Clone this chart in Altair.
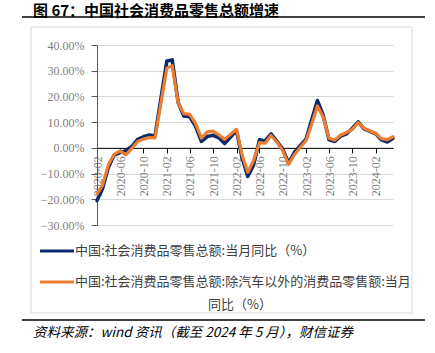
import altair as alt
import pandas as pd

# ---- data (percent, year-on-year) ----
years = [2020, 2021, 2022, 2023]
months = [f"{y}/{m:02d}/01" for y in years for m in range(2, 13)] + [
    "2024/02/01", "2024/03/01", "2024/04/01", "2024/05/01"]

total = [
    -20.5, -15.8, -7.5, -2.8, -1.8, -1.1, 0.5, 3.3, 4.3, 5.0, 4.6,
    33.8, 34.2, 17.7, 12.4, 12.1, 8.5, 2.5, 4.4, 4.9, 3.9, 1.7,
    6.7, -3.5, -11.1, -6.7, 3.1, 2.7, 5.4, 2.5, -0.5, -5.9, -1.8,
    3.5, 10.6, 18.4, 12.7, 3.1, 2.5, 4.6, 5.5, 7.6, 10.1, 7.4,
    5.5, 3.1, 2.3, 3.7,
]
ex_auto = [
    -18.0, -14.5, -6.5, -2.5, -1.2, -2.7, -0.3, 2.5, 3.4, 4.0, 3.9,
    31.0, 32.0, 17.5, 13.3, 13.0, 9.5, 3.8, 6.2, 6.5, 5.0, 3.3,
    7.2, -2.5, -9.5, -5.0, 2.0, 1.8, 4.8, 2.2, -1.1, -6.4, -2.7,
    3.0, 9.0, 16.3, 12.0, 3.7, 3.0, 5.0, 6.0, 7.2, 9.8, 7.6,
    5.6, 3.6, 3.2, 4.3,
]

tick_dates = [(2020, 2), (2020, 6), (2020, 10), (2021, 2), (2021, 6), (2021, 10),
              (2022, 2), (2022, 6), (2022, 10), (2023, 2), (2023, 6), (2023, 10),
              (2024, 2)]
y_ticks = [-30, -20, -10, 0, 10, 20, 30, 40]

title_text = "图 67：中国社会消费品零售总额增速"
legend1 = "中国:社会消费品零售总额:当月同比（%）"
legend2a = "中国:社会消费品零售总额:除汽车以外的消费品零售额:当月"
legend2b = "同比（%）"
source_text = "资料来源：wind 资讯（截至 2024 年 5 月），财信证券"

BLUE = "#0c2a69"
ORANGE = "#ED7D31"
SERIF = "Liberation Serif, Times New Roman, serif"
W, H = 296, 180
Y_MIN, Y_MAX = -30, 40

df = pd.DataFrame({"date": months, "total": total, "ex_auto": ex_auto})

x_axis = alt.Axis(
    title=None,
    values=[alt.DateTime(year=y, month=m, date=1) for y, m in tick_dates],
    format="%Y-%m",
    labelAngle=270,
    labelFont=SERIF,
    labelFontSize=12,
    labelColor="#7f7f7f",
    labelPadding=3,
    labelOverlap=False,
    labelFlush=False,
    domainColor="#000000",
    domainWidth=1,
    tickColor="#000000",
    tickSize=5,
    grid=False,
    offset=-(H - H * Y_MAX / (Y_MAX - Y_MIN)),
)
x_scale = alt.Scale(domain=[alt.DateTime(year=2020, month=2, date=1),
                            alt.DateTime(year=2024, month=5, date=1)])

y_scale = alt.Scale(domain=[Y_MIN, Y_MAX], nice=False)
y_axis = alt.Axis(
    title=None,
    values=y_ticks,
    labelExpr="format(datum.value / 100, '.2%')",
    labelFont=SERIF,
    labelFontSize=12,
    labelColor="#7f7f7f",
    labelPadding=7,
    labelOverlap=False,
    labelFlush=False,
    domainColor="#595959",
    tickColor="#595959",
    tickSize=6,
    gridColor="#d9d9d9",
    gridWidth=1,
)

base = alt.Chart(df)
line_total = base.mark_line(color=BLUE, strokeWidth=3.6, strokeJoin="round", strokeCap="round").encode(
    x=alt.X("date:T", scale=x_scale, axis=x_axis),
    y=alt.Y("total:Q", scale=y_scale, axis=y_axis),
)
line_ex = base.mark_line(color=ORANGE, strokeWidth=3.2, strokeJoin="round", strokeCap="round").encode(
    x=alt.X("date:T", scale=x_scale, axis=x_axis),
    y=alt.Y("ex_auto:Q", scale=y_scale, axis=y_axis),
)

one = alt.Chart(pd.DataFrame({"k": [0]}))

box = one.mark_rect(fillOpacity=0, stroke="#d9d9d9", strokeWidth=1).encode(
    x=alt.value(-66), x2=alt.value(315), y=alt.value(-18), y2=alt.value(268))

title = one.mark_text(text=title_text, font="Noto Sans CJK SC", fontSize=15, fontWeight="bold",
                      align="left", baseline="middle", color="#000000").encode(
    x=alt.value(-64), y=alt.value(-34.5))
title_rule = one.mark_rule(color="#000000", strokeWidth=1.5).encode(
    x=alt.value(-75), x2=alt.value(328), y=alt.value(-28))
bottom_rule = one.mark_rule(color="#404040", strokeWidth=2).encode(
    x=alt.value(-75), x2=alt.value(328), y=alt.value(275))
source = one.mark_text(text=source_text, font="Noto Sans CJK SC", fontSize=13.5, fontStyle="italic",
                       align="left", baseline="middle", color="#000000").encode(
    x=alt.value(-64), y=alt.value(288))

leg_rule1 = one.mark_rule(color=BLUE, strokeWidth=3).encode(
    x=alt.value(-57), x2=alt.value(-23), y=alt.value(206))
leg_text1 = one.mark_text(text=legend1, font="Noto Sans CJK SC", fontSize=13, align="left",
                          baseline="middle", color="#404040").encode(
    x=alt.value(-22), y=alt.value(206))
leg_rule2 = one.mark_rule(color=ORANGE, strokeWidth=3).encode(
    x=alt.value(-57), x2=alt.value(-23), y=alt.value(237))
leg_text2a = one.mark_text(text=legend2a, font="Noto Sans CJK SC", fontSize=13, align="left",
                           baseline="middle", color="#404040").encode(
    x=alt.value(-22), y=alt.value(237))
leg_text2b = one.mark_text(text=legend2b, font="Noto Sans CJK SC", fontSize=13, align="center",
                           baseline="middle", color="#404040").encode(
    x=alt.value(143), y=alt.value(260))

chart = alt.layer(
    box, line_total, line_ex, title, title_rule, bottom_rule, source,
    leg_rule1, leg_text1, leg_rule2, leg_text2a, leg_text2b,
).properties(
    width=W, height=H,
    padding={"left": 97, "top": 45, "right": 435 - 97 - W, "bottom": 353 - 45 - H},
    autosize=alt.AutoSizeParams(type="none"),
    background="#ffffff",
).configure_view(stroke=None)

chart.save("out.html", embed_options={"renderer": "svg", "actions": False})
